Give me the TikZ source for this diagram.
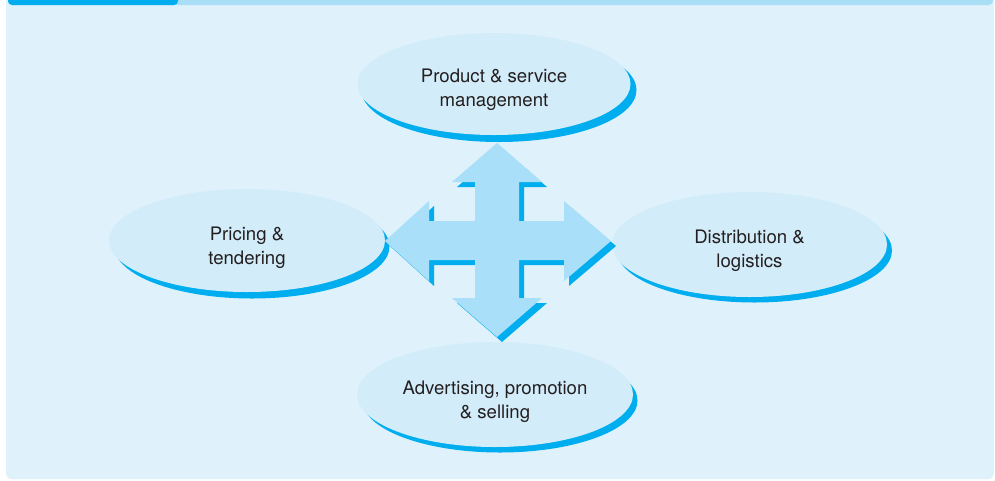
\documentclass[tikz,border=0pt]{standalone}
\usepackage{fontspec}
\setmainfont{TeX Gyre Heros}
\usetikzlibrary{shapes.geometric}
\definecolor{panel}{HTML}{DFF2FB}
\definecolor{barlight}{HTML}{A9DEF7}
\definecolor{bardark}{HTML}{00AEEF}
\definecolor{ellfill}{HTML}{D3ECF9}
\definecolor{crossfill}{HTML}{A9DFF8}
\definecolor{txt}{HTML}{231F20}
\tikzset{
  oval/.style={ellipse, fill=ellfill, inner sep=0pt, minimum width=275pt, minimum height=104pt},
  ovalshadow/.style={ellipse, fill=bardark, inner sep=0pt, minimum width=275pt, minimum height=104pt},
  label text/.style={font=\fontsize{18.6}{24}\selectfont, text=txt, align=center, anchor=base, inner sep=0pt}
}
\begin{document}
\begin{tikzpicture}[x=1pt,y=-1pt]
\useasboundingbox (0,0) rectangle (995,480);
\fill[white] (0,0) rectangle (995,480);
% panel
\fill[panel, rounded corners=6pt] (6,-10) rectangle (994,479);
% top bar
\fill[barlight, rounded corners=4pt] (8,-10) rectangle (993,5);
\fill[bardark, rounded corners=4pt] (8,-10) rectangle (178,5);
% ellipse shadows
\node[ovalshadow] (topS) at (499,90) {};
\node[ovalshadow] (leftS) at (252,246.5) {};
\node[ovalshadow] (rightS) at (754.5,250.5) {};
\node[ovalshadow] (bottomS) at (500,400.5) {};
% ellipses
\node[oval, minimum width=273pt, minimum height=102pt] (top) at (494,84) {};
\node[oval, minimum width=276pt, minimum height=103pt] (left) at (247,240.5) {};
\node[oval, minimum width=275pt, minimum height=105pt] (right) at (749.5,244.5) {};
\node[oval, minimum width=276pt, minimum height=105pt] (bottom) at (495,394.5) {};
% cross arrow
\coordinate (c) at (497,241);
\def\crosspath{(497,143) -- (542,182) -- (519,182) -- (519,221) -- (564,221) -- (564,201) -- (611,241) -- (564,281) -- (564,260) -- (519,260) -- (519,298) -- (542,298) -- (497,337) -- (452,298) -- (475,298) -- (475,260) -- (429,260) -- (429,281) -- (385,241) -- (429,201) -- (429,221) -- (475,221) -- (475,182) -- (452,182) -- cycle}
\fill[bardark, shift={(5,5)}] \crosspath;
\fill[crossfill] \crosspath;
% texts
\node[label text] (topT) at ([yshift=-22.5pt]top.center) {Product \& service\\management};
\node[label text] (leftT) at ([yshift=-24pt]left.center) {Pricing \&\\tendering};
\node[label text] (rightT) at ([yshift=-23pt]right.center) {Distribution \&\\logistics};
\node[label text] (bottomT) at ([yshift=-24pt]bottom.center) {Advertising, promotion\\\& selling};
\end{tikzpicture}
\end{document}
